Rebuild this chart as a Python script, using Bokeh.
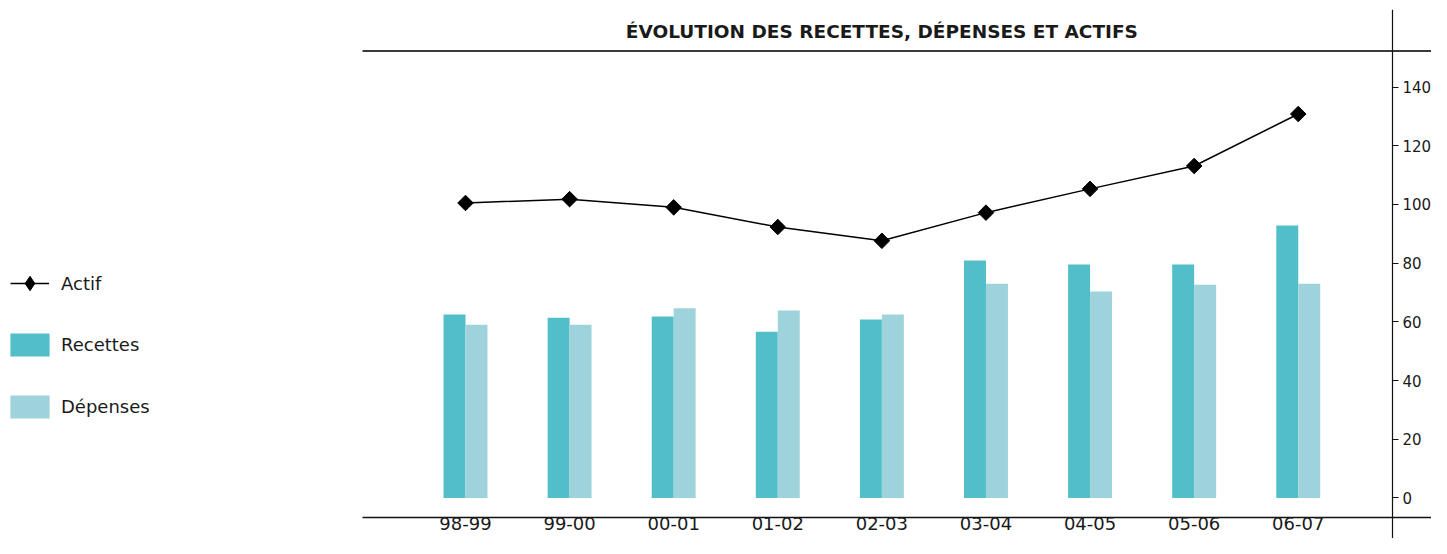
from bokeh.plotting import figure
from bokeh.models import (LinearAxis, FixedTicker, Label, Legend, LegendItem,
                          Range1d, ColumnDataSource)
from bokeh.embed import file_html
from bokeh.resources import INLINE
import numpy as np

# ---- data ----
categories = ["98-99", "99-00", "00-01", "01-02", "02-03", "03-04", "04-05", "05-06", "06-07"]
actif = [100.5, 101.8, 99.0, 92.3, 87.6, 97.2, 105.3, 113.1, 130.8]
recettes = [62.5, 61.4, 61.8, 56.6, 60.8, 80.9, 79.5, 79.5, 92.8]
depenses = [59.0, 59.0, 64.6, 63.9, 62.5, 73.0, 70.3, 72.6, 73.0]
y_ticks = [0, 20, 40, 60, 80, 100, 120, 140]
title_text = "ÉVOLUTION DES RECETTES, DÉPENSES ET ACTIFS"

# ---- layout constants (data-space positions of the rules) ----
X_MIN, X_MAX = -4.467, 9.28        # frame spans the whole canvas width
RULE_X0 = -0.989                   # where the horizontal rules start
VRULE_X = 8.905                    # vertical rule / value axis
Y_MIN, Y_MAX = -13.8, 166.4
TOP_RULE_Y = 152.26
BOTTOM_RULE_Y = -6.64

idx = list(range(len(categories)))
bar_w = 0.211

src = ColumnDataSource(dict(
    x=idx,
    xr=[i - bar_w / 2 for i in idx],
    xd=[i + bar_w / 2 for i in idx],
    actif=actif, recettes=recettes, depenses=depenses,
))
# legend-only marker source (nothing is drawn in the plot area)
legend_src = ColumnDataSource(dict(x=[np.nan], y=[np.nan]))

TEXT = "#1a1a1a"
FONT = "DejaVu Sans"

p = figure(width=1431, height=538, output_backend="svg", toolbar_location=None,
           x_range=Range1d(X_MIN, X_MAX), y_range=Range1d(Y_MIN, Y_MAX),
           x_axis_location=None, y_axis_location=None,
           min_border_left=0, min_border_right=0, min_border_top=9, min_border_bottom=0)
p.outline_line_color = None
p.background_fill_color = "white"
p.border_fill_color = "white"
p.xgrid.visible = False
p.ygrid.visible = False

# horizontal rules (start at the left edge of the chart area)
p.segment(x0=[RULE_X0], y0=[TOP_RULE_Y], x1=[X_MAX], y1=[TOP_RULE_Y],
          line_color="#3a3a3a", line_width=2)
p.segment(x0=[RULE_X0], y0=[BOTTOM_RULE_Y], x1=[X_MAX], y1=[BOTTOM_RULE_Y],
          line_color="#111111", line_width=1.3)

r_rec = p.vbar(x="xr", top="recettes", bottom=0, width=bar_w, source=src,
               fill_color="#52BEC9", line_color=None)
r_dep = p.vbar(x="xd", top="depenses", bottom=0, width=bar_w, source=src,
               fill_color="#9ED3DC", line_color=None)
r_line = p.line(x="x", y="actif", source=src, line_color="black", line_width=1.5)
r_pts = p.scatter(x="x", y="actif", source=src, marker="square", angle=np.pi / 4,
                  size=11, fill_color="black", line_color="black")
r_leg = p.scatter(x="x", y="y", source=legend_src, marker="diamond",
                  fill_color="black", line_color="black")

# bottom category axis (labels under the lower rule)
xax = LinearAxis(fixed_location=BOTTOM_RULE_Y, ticker=FixedTicker(ticks=idx),
                 major_label_overrides={i: c for i, c in zip(idx, categories)})
xax.axis_line_color = None
xax.major_tick_out = 0
xax.major_tick_in = 0
xax.minor_tick_out = 0
xax.minor_tick_in = 0
xax.major_label_standoff = 0
xax.major_label_text_font = FONT
xax.major_label_text_font_size = "18px"
xax.major_label_text_color = TEXT
p.add_layout(xax, "below")

# right value axis (vertical rule)
yax = LinearAxis(fixed_location=VRULE_X, ticker=FixedTicker(ticks=y_ticks))
yax.axis_line_color = "#111111"
yax.axis_line_width = 1.2
yax.major_tick_out = 6
yax.major_tick_in = 0
yax.major_tick_line_color = "#111111"
yax.minor_tick_out = 0
yax.minor_tick_in = 0
yax.major_label_standoff = 4
yax.major_label_text_font = FONT
yax.major_label_text_font_size = "15px"
yax.major_label_text_color = TEXT
yax.major_label_text_baseline = "alphabetic"
p.add_layout(yax, "right")

# title
p.add_layout(Label(x=4.0, y=158.9, text=title_text, text_align="center",
                   text_baseline="middle", text_font=FONT, text_font_style="bold",
                   text_font_size="18.5px", text_color=TEXT))


def style_legend(lg, gw, gh, spacing, standoff):
    lg.padding = 0
    lg.margin = 0
    lg.spacing = spacing
    lg.glyph_width = gw
    lg.glyph_height = gh
    lg.label_height = gh
    lg.label_standoff = standoff
    lg.label_text_font = FONT
    lg.label_text_font_size = "18px"
    lg.label_text_color = TEXT
    lg.border_line_color = None
    lg.background_fill_alpha = 0


leg_a = Legend(items=[LegendItem(label="Actif", renderers=[r_line, r_leg])],
               location=(10, 237))
style_legend(leg_a, 39, 36, 0, 12)
leg_b = Legend(items=[
    LegendItem(label="Recettes", renderers=[r_rec]),
    LegendItem(label="Dépenses", renderers=[r_dep]),
], location=(5, 117.5))
style_legend(leg_b, 49, 29, 33, 7)
p.add_layout(leg_a)
p.add_layout(leg_b)

open("out.html", "w").write(file_html(p, INLINE))
